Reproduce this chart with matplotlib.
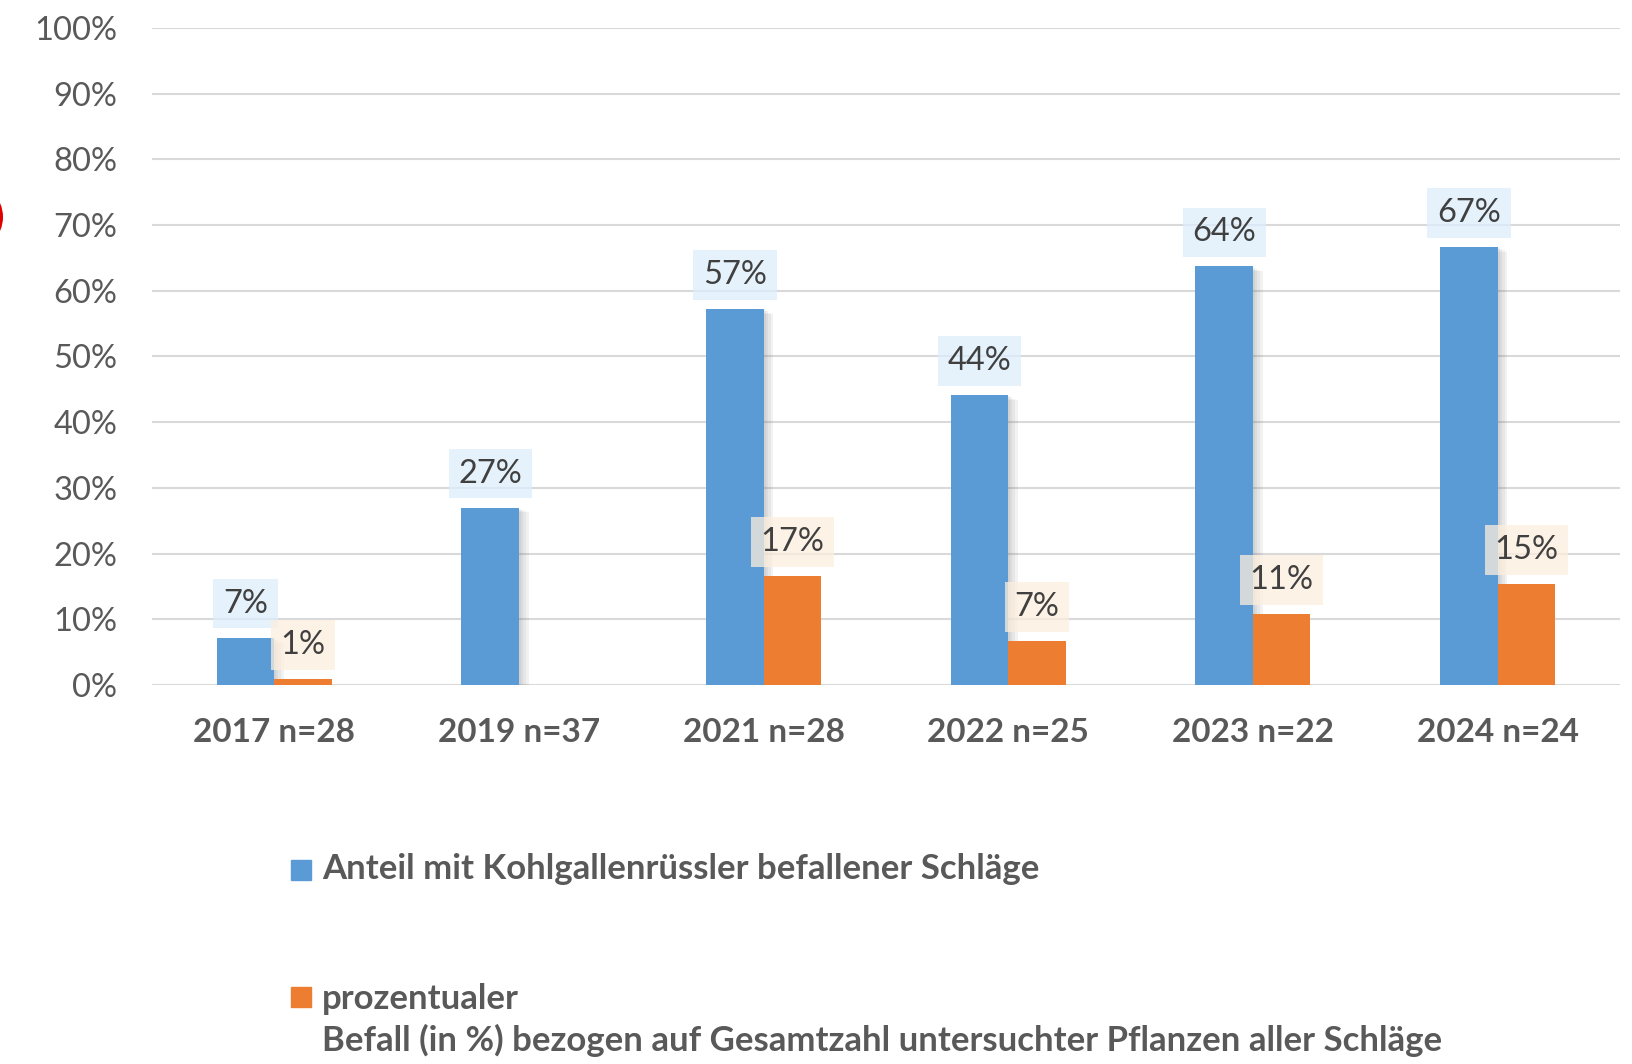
import numpy as np
import matplotlib
matplotlib.use("Agg")
from matplotlib import pyplot as plt
from matplotlib import patheffects as pe
from matplotlib.patches import Rectangle, Ellipse

plt.rcParams['font.family'] = ['Lato', 'DejaVu Sans']

# data
categories = ['2017 n=28', '2019 n=37', '2021 n=28', '2022 n=25', '2023 n=22', '2024 n=24']
befallene_schlaege = [7.2, 27.0, 57.2, 44.1, 63.7, 66.7]
befall_pflanzen = [0.95, np.nan, 16.6, 6.7, 10.8, 15.4]
labels_blue = ['7%', '27%', '57%', '44%', '64%', '67%']
labels_orange = ['1%', '', '17%', '7%', '11%', '15%']
legend_labels = ['Anteil mit Kohlgallenrüssler befallener Schläge',
                 'prozentualer\nBefall (in %) bezogen auf Gesamtzahl untersuchter Pflanzen aller Schläge']
yticks = list(range(0, 101, 10))

BLUE = '#5b9bd5'
ORANGE = '#ed7d31'
GREY = '#595959'
W = 0.235

fig = plt.figure(figsize=(16.32, 10.64), dpi=100)
ax = fig.add_axes([0.0931, 0.3562, 0.8995, 0.6175])

x = np.arange(len(categories))
b1 = ax.bar(x - W / 2, befallene_schlaege, W, color=BLUE, zorder=3)
# soft shadow: a few stacked, faint offset copies
shadow = [pe.withSimplePatchShadow(offset=(k, -k * 0.5), shadow_rgbFace='#808080', alpha=0.1)
          for k in (7, 5, 3, 1.5)]
for p in b1:
    p.set_path_effects(shadow + [pe.Normal()])
b2 = ax.bar(x + W / 2, befall_pflanzen, W, color=ORANGE, zorder=4)

def put_labels(bars, vals, texts, face):
    for p, v, t in zip(bars, vals, texts):
        if not t or np.isnan(v):
            continue
        ax.annotate(t, (p.get_x() + p.get_width() / 2, v), xytext=(0, 19),
                    textcoords='offset pixels', ha='center', va='bottom',
                    fontsize=23.5, color='#404040', zorder=6,
                    bbox=dict(boxstyle='square,pad=0.3', fc=face, ec='none', alpha=0.75))

put_labels(b1, befallene_schlaege, labels_blue, '#ddeefc')
put_labels(b2, befall_pflanzen, labels_orange, '#fdeede')

ax.set_xlim(-0.5, len(categories) - 0.5)
ax.set_ylim(0, 100)
ax.set_yticks(yticks)
ax.set_yticklabels([f'{t}%' for t in yticks])
ax.set_xticks(x)
ax.set_xticklabels(categories, fontweight='bold')
ax.tick_params(axis='y', length=0, pad=25, labelsize=23.5, labelcolor=GREY)
ax.tick_params(axis='x', length=0, pad=24, labelsize=24, labelcolor=GREY)
ax.grid(axis='y', color='#d9d9d9', linewidth=1.5, zorder=0)
for s in ax.spines.values():
    s.set_visible(False)

# legend drawn by hand to keep the wide spacing of the original
fig.add_artist(Rectangle((291 / 1632, 1 - 880 / 1064), 20 / 1632, 20 / 1064,
                         transform=fig.transFigure, color=BLUE))
fig.text(322 / 1632, 1 - 869 / 1064, legend_labels[0], fontsize=25, fontweight='bold',
         color=GREY, va='center', ha='left')
fig.add_artist(Rectangle((291 / 1632, 1 - 1007 / 1064), 20 / 1632, 20 / 1064,
                         transform=fig.transFigure, color=ORANGE))
fig.text(322 / 1632, 1 - 1020 / 1064, legend_labels[1], fontsize=25, fontweight='bold',
         color=GREY, va='center', ha='left', linespacing=1.35)

# cropped red marker at the left edge
fig.add_artist(Ellipse((-32 / 1632, 1 - 217 / 1064), 70 / 1632, 70 / 1064,
                       transform=fig.transFigure, fc='#e00000', ec='none'))

fig.savefig('out.png', dpi=100)
